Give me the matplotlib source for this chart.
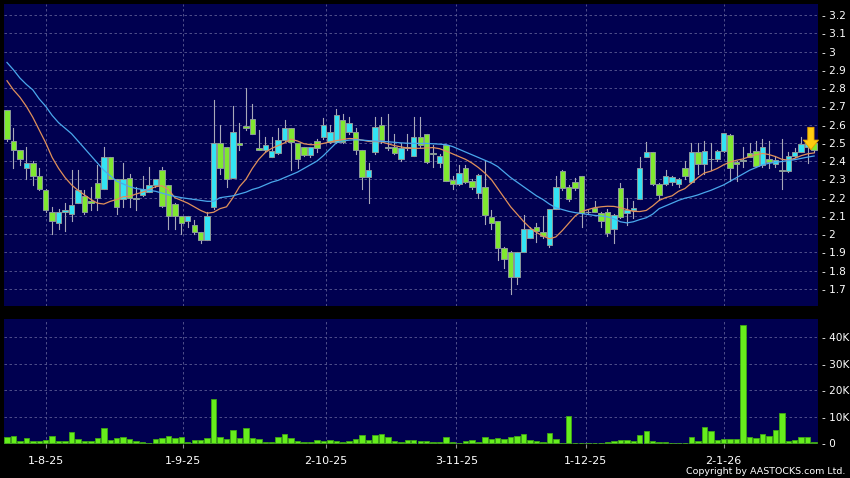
import matplotlib
matplotlib.use("Agg")
import matplotlib.pyplot as plt
from matplotlib.patches import Rectangle
from matplotlib.ticker import FuncFormatter, FixedLocator

# OHLC (HKD), one entry per trading day
opens = [2.68, 2.51, 2.46, 2.36, 2.39, 2.32, 2.24, 2.12, 2.06, 2.12,
         2.11, 2.17, 2.21, 2.18, 2.28, 2.25, 2.42, 2.30, 2.19, 2.31,
         2.19, 2.215, 2.23, 2.27, 2.35, 2.27, 2.165, 2.10, 2.07, 2.05,
         2.01, 1.97, 2.15, 2.50, 2.48, 2.31, 2.50, 2.59, 2.63, 2.47,
         2.46, 2.42, 2.443, 2.516, 2.58, 2.50, 2.48, 2.434, 2.512, 2.53,
         2.506, 2.507, 2.625, 2.558, 2.561, 2.461, 2.311, 2.45, 2.598, 2.47,
         2.479, 2.41, 2.47, 2.43, 2.53, 2.549, 2.44, 2.392, 2.49, 2.297,
         2.275, 2.361, 2.29, 2.224, 2.26, 2.092, 2.07, 1.923, 1.90, 1.766,
         1.90, 1.98, 2.04, 2.01, 1.94, 2.14, 2.348, 2.26, 2.284, 2.32,
         2.12, 2.142, 2.114, 2.12, 2.03, 2.251, 2.118, 2.133, 2.191, 2.421,
         2.452, 2.275, 2.275, 2.284, 2.275, 2.361, 2.288, 2.452, 2.384, 2.41,
         2.41, 2.457, 2.543, 2.397, 2.40, 2.443, 2.457, 2.379, 2.41, 2.384,
         2.35, 2.346, 2.43, 2.452, 2.48, 2.50]
highs = [2.68, 2.58, 2.46, 2.48, 2.40, 2.36, 2.25, 2.15, 2.14, 2.17,
         2.35, 2.35, 2.24, 2.26, 2.38, 2.48, 2.42, 2.30, 2.39, 2.33,
         2.26, 2.32, 2.37, 2.30, 2.37, 2.27, 2.17, 2.10, 2.10, 2.08,
         2.01, 2.12, 2.735, 2.60, 2.48, 2.70, 2.61, 2.80, 2.71, 2.57,
         2.53, 2.53, 2.58, 2.625, 2.58, 2.50, 2.48, 2.48, 2.52, 2.634,
         2.60, 2.684, 2.66, 2.64, 2.58, 2.46, 2.39, 2.64, 2.64, 2.66,
         2.55, 2.50, 2.55, 2.64, 2.64, 2.55, 2.49, 2.44, 2.49, 2.32,
         2.38, 2.38, 2.30, 2.33, 2.40, 2.13, 2.07, 1.93, 1.91, 1.90,
         2.105, 2.04, 2.06, 2.10, 2.14, 2.32, 2.35, 2.27, 2.31, 2.32,
         2.13, 2.18, 2.12, 2.14, 2.11, 2.28, 2.20, 2.18, 2.425, 2.507,
         2.45, 2.28, 2.35, 2.32, 2.31, 2.40, 2.50, 2.50, 2.51, 2.50,
         2.46, 2.555, 2.55, 2.40, 2.48, 2.50, 2.51, 2.52, 2.51, 2.43,
         2.52, 2.45, 2.47, 2.534, 2.55, 2.50]
lows = [2.51, 2.36, 2.38, 2.30, 2.27, 2.24, 2.12, 2.00, 2.03, 2.02,
        2.07, 2.17, 2.11, 2.13, 2.13, 2.25, 2.30, 2.11, 2.15, 2.15,
        2.13, 2.21, 2.23, 2.26, 2.15, 2.03, 2.03, 2.00, 2.04, 2.00,
        1.95, 1.97, 2.14, 2.33, 2.26, 2.31, 2.46, 2.57, 2.55, 2.46,
        2.45, 2.42, 2.44, 2.51, 2.35, 2.36, 2.43, 2.42, 2.45, 2.52,
        2.50, 2.50, 2.50, 2.55, 2.44, 2.25, 2.17, 2.44, 2.50, 2.46,
        2.44, 2.40, 2.46, 2.43, 2.48, 2.39, 2.37, 2.37, 2.29, 2.25,
        2.27, 2.28, 2.25, 2.20, 2.056, 2.03, 1.86, 1.813, 1.67, 1.73,
        1.90, 1.98, 1.96, 1.98, 1.93, 2.14, 2.24, 2.18, 2.24, 2.04,
        2.11, 2.12, 2.04, 1.99, 1.95, 2.09, 2.05, 2.09, 2.19, 2.42,
        2.27, 2.187, 2.27, 2.27, 2.26, 2.30, 2.28, 2.33, 2.33, 2.35,
        2.40, 2.45, 2.29, 2.29, 2.37, 2.42, 2.37, 2.37, 2.36, 2.37,
        2.25, 2.34, 2.42, 2.45, 2.39, 2.45]
closes = [2.52, 2.46, 2.41, 2.39, 2.32, 2.25, 2.13, 2.07, 2.12, 2.13,
          2.16, 2.24, 2.12, 2.17, 2.20, 2.42, 2.30, 2.15, 2.30, 2.20,
          2.20, 2.25, 2.27, 2.30, 2.155, 2.10, 2.10, 2.06, 2.10, 2.01,
          1.97, 2.10, 2.50, 2.36, 2.30, 2.56, 2.49, 2.58, 2.55, 2.46,
          2.49, 2.456, 2.516, 2.58, 2.506, 2.41, 2.434, 2.479, 2.47, 2.60,
          2.561, 2.653, 2.507, 2.611, 2.461, 2.311, 2.352, 2.589, 2.516, 2.479,
          2.443, 2.47, 2.475, 2.53, 2.488, 2.394, 2.44, 2.43, 2.29, 2.275,
          2.333, 2.284, 2.26, 2.324, 2.105, 2.06, 1.923, 1.863, 1.766, 1.90,
          2.03, 2.03, 2.02, 1.99, 2.14, 2.26, 2.251, 2.19, 2.251, 2.114,
          2.12, 2.124, 2.074, 2.005, 2.105, 2.093, 2.133, 2.142, 2.361, 2.452,
          2.273, 2.215, 2.32, 2.311, 2.302, 2.32, 2.452, 2.384, 2.457, 2.41,
          2.457, 2.553, 2.361, 2.384, 2.40, 2.425, 2.373, 2.479, 2.394, 2.406,
          2.345, 2.43, 2.452, 2.492, 2.50, 2.46]

# moving averages as drawn on the chart
ma_short = [2.84, 2.79, 2.75, 2.70, 2.64, 2.57, 2.50, 2.42, 2.36, 2.31,
            2.27, 2.24, 2.215, 2.19, 2.17, 2.165, 2.18, 2.19, 2.205, 2.207,
            2.22, 2.23, 2.245, 2.26, 2.265, 2.245, 2.20, 2.185, 2.17, 2.15,
            2.13, 2.115, 2.12, 2.14, 2.15, 2.20, 2.26, 2.30, 2.36, 2.41,
            2.447, 2.47, 2.485, 2.50, 2.52, 2.51, 2.495, 2.49, 2.49, 2.497,
            2.505, 2.512, 2.518, 2.524, 2.522, 2.515, 2.508, 2.507, 2.505, 2.495,
            2.485, 2.478, 2.472, 2.47, 2.47, 2.472, 2.474, 2.468, 2.455, 2.44,
            2.425, 2.41, 2.39, 2.365, 2.335, 2.30, 2.25, 2.20, 2.15, 2.11,
            2.07, 2.035, 2.01, 1.99, 1.975, 1.985, 2.02, 2.06, 2.10, 2.125,
            2.135, 2.145, 2.15, 2.153, 2.152, 2.145, 2.135, 2.125, 2.124, 2.13,
            2.155, 2.185, 2.20, 2.21, 2.235, 2.25, 2.28, 2.31, 2.335, 2.345,
            2.36, 2.38, 2.395, 2.405, 2.412, 2.425, 2.435, 2.442, 2.436, 2.425,
            2.41, 2.405, 2.415, 2.43, 2.44, 2.445]
ma_long = [2.94, 2.90, 2.855, 2.82, 2.79, 2.74, 2.70, 2.65, 2.61, 2.58,
           2.55, 2.51, 2.47, 2.43, 2.39, 2.35, 2.32, 2.29, 2.275, 2.26,
           2.25, 2.245, 2.24, 2.235, 2.225, 2.215, 2.207, 2.20, 2.195, 2.19,
           2.185, 2.18, 2.18, 2.20, 2.205, 2.21, 2.22, 2.23, 2.245, 2.255,
           2.27, 2.285, 2.295, 2.31, 2.325, 2.34, 2.36, 2.38, 2.40, 2.43,
           2.465, 2.50, 2.51, 2.515, 2.517, 2.515, 2.512, 2.51, 2.508, 2.506,
           2.503, 2.50, 2.498, 2.497, 2.497, 2.497, 2.495, 2.493, 2.49, 2.48,
           2.465, 2.45, 2.435, 2.42, 2.405, 2.39, 2.37, 2.34, 2.31, 2.285,
           2.26, 2.235, 2.21, 2.19, 2.165, 2.145, 2.135, 2.125, 2.118, 2.113,
           2.108, 2.103, 2.10, 2.095, 2.085, 2.068, 2.062, 2.068, 2.08, 2.09,
           2.11, 2.14, 2.155, 2.17, 2.185, 2.197, 2.205, 2.215, 2.228, 2.24,
           2.255, 2.27, 2.29, 2.31, 2.33, 2.35, 2.365, 2.38, 2.388, 2.393,
           2.398, 2.403, 2.408, 2.415, 2.422, 2.428]

# volume in thousands of shares
volume = [2.5, 2.9, 1.0, 2.0, 0.9, 0.75, 1.1, 2.9, 1.0, 0.75,
          4.2, 1.5, 0.9, 0.9, 2.0, 5.7, 1.1, 2.1, 2.3, 1.6,
          0.9, 0.4, 0.1, 1.4, 1.9, 2.6, 1.8, 2.3, 0.4, 1.1,
          1.1, 1.9, 16.7, 2.3, 1.5, 4.8, 1.9, 5.8, 2.0, 1.5,
          0.6, 0.6, 2.4, 3.5, 1.9, 0.75, 0.6, 0.4, 1.1, 0.75,
          1.3, 0.75, 0.4, 0.75, 1.4, 3.1, 1.3, 3.0, 3.3, 2.4,
          0.75, 0.4, 1.1, 1.1, 1.0, 1.0, 0.5, 0.4, 2.3, 0.5,
          0.1, 0.75, 1.1, 0.5, 2.3, 1.6, 2.0, 1.4, 2.5, 2.6,
          3.4, 1.3, 0.9, 0.6, 3.9, 1.5, 0.1, 10.2, 0.25, 0.25,
          0.05, 0.1, 0.25, 0.4, 0.75, 1.3, 1.1, 0.9, 3.0, 4.7,
          1.0, 0.4, 0.4, 0.25, 0.25, 0.1, 2.4, 0.9, 6.0, 4.7,
          1.1, 1.6, 1.5, 1.4, 44.5, 2.3, 1.9, 3.4, 2.8, 4.8,
          11.3, 1.0, 1.3, 2.4, 2.5, 0.5]

date_labels = ["1-8-25", "1-9-25", "2-10-25", "3-11-25", "1-12-25", "2-1-26"]
date_pos = [6, 27.2, 49.4, 69.6, 89.6, 111]
price_ticks = [1.7, 1.8, 1.9, 2.0, 2.1, 2.2, 2.3, 2.4, 2.5, 2.6, 2.7, 2.8, 2.9, 3.0, 3.1, 3.2]
vol_ticks = [0, 10, 20, 30, 40]

BG = "#000050"
UP = "#33e4f4"
DOWN = "#80e830"
GRID = "#5c5c94"

fig = plt.figure(figsize=(8.5, 4.78), dpi=100, facecolor="black")
axp = fig.add_axes([4 / 850, 1 - 306 / 478, 814 / 850, 302 / 478], facecolor=BG)
axv = fig.add_axes([4 / 850, 1 - 444 / 478, 814 / 850, 125 / 478], facecolor=BG)

n = len(closes)
xs = list(range(n))
w = 0.84

# candles
for i in xs:
    o, h, l, c = opens[i], highs[i], lows[i], closes[i]
    col = UP if c > o else DOWN
    axp.plot([i, i], [l, h], color="#a8a8b8", lw=0.8, zorder=2)
    bot = min(o, c)
    hgt = max(abs(c - o), 0.004)
    axp.add_patch(Rectangle((i - w / 2, bot), w, hgt, facecolor=col,
                            edgecolor="#8c9a9a", lw=0.7, zorder=3))

axp.plot(xs, ma_short, color="#e0905a", lw=0.9, zorder=4)
axp.plot(xs, ma_long, color="#4aa8ec", lw=0.9, zorder=4)

# yellow marker arrow over the last bar
axp.annotate("", xy=(n - 1.5, 2.462), xytext=(n - 1.5, 2.585),
             arrowprops=dict(facecolor="#ffcc10", edgecolor="#e8a000",
                             width=4.5, headwidth=11, headlength=7, lw=0.6),
             zorder=6)

axp.set_xlim(-0.46, 125.6)
axp.set_ylim(1.607, 3.26)

# volume
axv.bar(xs, volume, width=w, color="#66ee1c", edgecolor="#3fa814", lw=0.6, zorder=3)
axv.set_xlim(-0.46, 125.6)
axv.set_ylim(-0.3, 46.9)

for ax in (axp, axv):
    for s in ax.spines.values():
        s.set_visible(False)
    ax.yaxis.tick_right()
    ax.tick_params(axis="y", length=0, pad=3, labelsize=7.6, labelcolor="white")
    ax.xaxis.set_major_locator(FixedLocator(date_pos))
    ax.grid(True, color=GRID, linestyle=(0, (3, 3)), lw=0.6, zorder=0)

axp.set_yticks(price_ticks)
axp.yaxis.set_major_formatter(FuncFormatter(lambda v, p: "- " + f"{v:g}"))
axp.tick_params(axis="x", length=0, labelbottom=False)

axv.set_yticks(vol_ticks)
axv.yaxis.set_major_formatter(FuncFormatter(lambda v, p: "- " + (f"{v:g}K" if v else "0")))
axv.set_xticks(date_pos)
axv.set_xticklabels(date_labels)
axv.tick_params(axis="x", length=3, color="#909090", pad=6, labelsize=8, labelcolor="white")
axv.grid(True, axis="y", color=GRID, linestyle=(0, (3, 3)), lw=0.6, zorder=0)
axv.grid(True, axis="x", color=GRID, linestyle=(0, (3, 3)), lw=0.6, zorder=0)

fig.text(845 / 850, 1 - 471 / 478, "Copyright by AASTOCKS.com Ltd.", color="white",
         fontsize=6.8, ha="right", va="center")

fig.savefig("out.png", dpi=100, facecolor="black")
